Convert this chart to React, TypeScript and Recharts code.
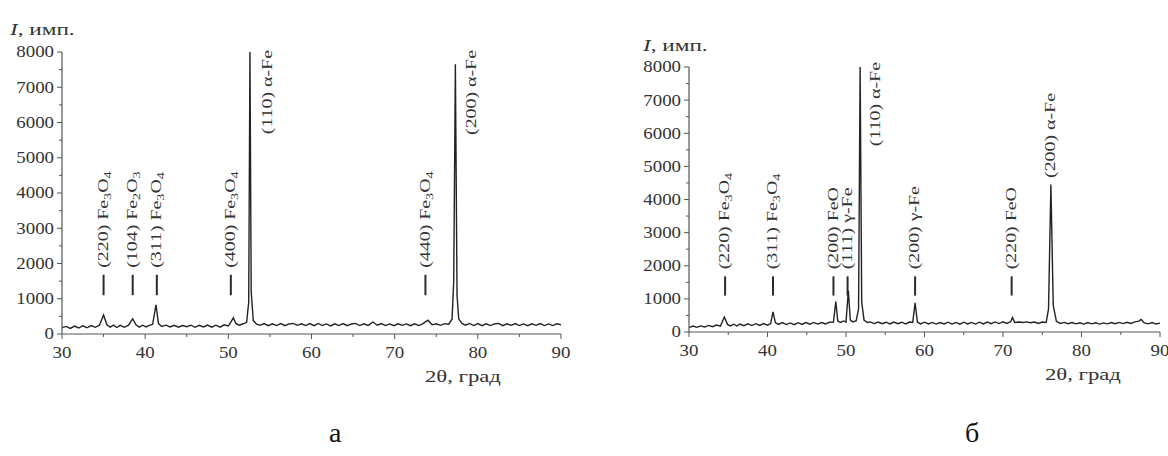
import React from 'react';
import { LineChart, Line, XAxis, YAxis, ReferenceLine } from 'recharts';

// ---------- Data: pattern (a) ----------
const thetaA = [
  30.0, 30.5, 31.0, 31.5, 32.0, 32.5, 33.0, 33.5, 34.0, 34.5,
  35.0, 35.4, 35.8, 36.2, 36.6, 37.0, 37.5, 38.0, 38.5, 38.9,
  39.3, 39.7, 40.1, 40.5, 40.9, 41.3, 41.6, 42.0, 42.5, 43.0,
  43.5, 44.0, 44.5, 45.0, 45.5, 46.0, 46.5, 47.0, 47.5, 48.0,
  48.5, 49.0, 49.5, 50.0, 50.3, 50.6, 50.9, 51.3, 51.8, 52.2,
  52.45, 52.6, 52.75, 53.0, 53.4, 53.8, 54.3, 54.8, 55.3, 55.8,
  56.3, 56.8, 57.3, 57.8, 58.3, 58.8, 59.3, 59.8, 60.3, 60.8,
  61.3, 61.8, 62.3, 62.8, 63.3, 63.8, 64.3, 64.8, 65.3, 65.8,
  66.3, 66.8, 67.4, 67.9, 68.4, 68.9, 69.4, 69.9, 70.4, 70.9,
  71.4, 71.9, 72.4, 72.9, 73.4, 74.0, 74.5, 75.0, 75.5, 76.0,
  76.5, 76.9, 77.1, 77.3, 77.5, 77.7, 78.1, 78.5, 79.0, 79.5,
  80.0, 80.5, 81.0, 81.5, 82.0, 82.5, 83.0, 83.5, 84.0, 84.5,
  85.0, 85.5, 86.0, 86.5, 87.0, 87.5, 88.0, 88.5, 89.0, 89.5,
  90.0,
];
const intensityA = [
  180, 215, 160, 225, 170, 230, 175, 240, 190, 250,
  540, 260, 195, 250, 185, 245, 190, 250, 430, 260,
  195, 250, 200, 245, 275, 830, 295, 215, 250, 200,
  245, 195, 240, 205, 250, 190, 245, 200, 255, 195,
  250, 195, 260, 230, 340, 460, 300, 250, 290, 330,
  900, 8000, 1200, 380, 280, 245, 295, 235, 290, 240,
  295, 235, 285, 300, 245, 290, 240, 295, 235, 300,
  240, 285, 230, 290, 240, 295, 235, 285, 300, 240,
  290, 245, 340, 250, 295, 240, 285, 235, 290, 245,
  285, 235, 290, 240, 295, 390, 260, 290, 245, 295,
  280, 420, 1500, 7650, 1100, 430, 300, 250, 300, 240,
  295, 235, 290, 240, 285, 300, 235, 290, 245, 295,
  240, 285, 235, 290, 245, 295, 240, 285, 240, 290,
  260,
];

// ---------- Data: pattern (б) ----------
const thetaB = [
  30.0, 30.5, 31.0, 31.5, 32.0, 32.5, 33.0, 33.5, 34.0, 34.5,
  34.9, 35.3, 35.7, 36.1, 36.5, 37.0, 37.5, 38.0, 38.5, 39.0,
  39.5, 40.0, 40.4, 40.7, 41.0, 41.4, 41.9, 42.4, 42.9, 43.4,
  43.9, 44.4, 44.9, 45.4, 45.9, 46.4, 46.9, 47.4, 47.9, 48.4,
  48.7, 48.95, 49.3, 49.7, 50.0, 50.3, 50.55, 50.9, 51.3, 51.6,
  51.8, 52.0, 52.3, 52.7, 53.1, 53.6, 54.1, 54.6, 55.1, 55.6,
  56.1, 56.6, 57.1, 57.6, 58.1, 58.5, 58.8, 59.1, 59.5, 60.0,
  60.5, 61.0, 61.5, 62.0, 62.5, 63.0, 63.5, 64.0, 64.5, 65.0,
  65.5, 66.0, 66.5, 67.0, 67.5, 68.0, 68.5, 69.0, 69.5, 70.0,
  70.5, 71.0, 71.2, 71.5, 72.0, 72.5, 73.0, 73.5, 74.0, 74.5,
  75.0, 75.5, 75.8, 76.1, 76.4, 76.8, 77.3, 77.8, 78.3, 78.8,
  79.3, 79.8, 80.3, 80.8, 81.3, 81.8, 82.3, 82.8, 83.3, 83.8,
  84.3, 84.8, 85.3, 85.8, 86.3, 86.8, 87.3, 87.6, 88.0, 88.5,
  89.0, 89.5, 90.0,
];
const intensityB = [
  130, 180, 140, 185, 150, 200, 160, 210, 175, 450,
  230, 185, 235, 180, 240, 190, 245, 195, 250, 200,
  255, 205, 255, 610, 285, 230, 285, 225, 275, 220,
  280, 230, 285, 235, 290, 240, 285, 245, 295, 300,
  920, 330, 290, 335, 300, 1250, 360, 305, 340, 700,
  8000, 900, 360, 285, 305, 255, 300, 250, 295, 245,
  300, 250, 295, 245, 300, 290, 880, 300, 245, 295,
  245, 290, 240, 285, 245, 295, 240, 290, 235, 295,
  245, 290, 240, 295, 245, 300, 250, 305, 255, 310,
  260, 315, 440, 290, 300, 285, 305, 280, 300, 260,
  300, 285, 700, 4450, 800, 320, 260, 290, 250, 285,
  245, 280, 240, 285, 245, 280, 240, 275, 245, 285,
  250, 290, 255, 295, 260, 305, 330, 380, 275, 245,
  285, 240, 270,
];

// ---------- Axes ----------
const xTicks = [30, 35, 40, 45, 50, 55, 60, 65, 70, 75, 80, 85, 90];
const xLabelStep = 10;
const yTicks = [0, 500, 1000, 1500, 2000, 2500, 3000, 3500, 4000, 4500, 5000, 5500, 6000, 6500, 7000, 7500, 8000];
const yLabelStep = 1000;

// ---------- Peak labels ----------
const markerRange = [1100, 1680];

const markersA = [
  { theta: 35.0, hkl: '(220)', phase: 'Fe3O4' },
  { theta: 38.5, hkl: '(104)', phase: 'Fe2O3' },
  { theta: 41.4, hkl: '(311)', phase: 'Fe3O4' },
  { theta: 50.3, hkl: '(400)', phase: 'Fe3O4' },
  { theta: 73.7, hkl: '(440)', phase: 'Fe3O4' },
];
const sideLabelsA = [
  { theta: 52.6, top: 8000, hkl: '(110)', phase: 'α-Fe', dx: 18, dy: -2 },
  { theta: 77.3, top: 8000, hkl: '(200)', phase: 'α-Fe', dx: 16, dy: -2 },
];
const aboveLabelsA: { theta: number; base: number; hkl: string; phase: string }[] = [];

const markersB = [
  { theta: 34.6, hkl: '(220)', phase: 'Fe3O4' },
  { theta: 40.7, hkl: '(311)', phase: 'Fe3O4' },
  { theta: 48.4, hkl: '(200)', phase: 'FeO' },
  { theta: 50.2, hkl: '(111)', phase: 'γ-Fe' },
  { theta: 58.8, hkl: '(200)', phase: 'γ-Fe' },
  { theta: 71.1, hkl: '(220)', phase: 'FeO' },
];
const sideLabelsB = [
  { theta: 51.8, top: 8000, hkl: '(110)', phase: 'α-Fe', dx: 16, dy: -5 },
];
const aboveLabelsB = [
  { theta: 76.1, base: 4650, hkl: '(200)', phase: 'α-Fe' },
];

// ---------- Styling ----------
const FONT = '"Liberation Serif", "Times New Roman", serif';
const TEXT = '#333';
const AXIS = '#555';
const LABEL_STRETCH = 1.42;
const TICK_STRETCH = 1.18;

function chemNodes(hkl: string, phase: string) {
  const parts = phase.split(/(\d+)/);
  const nodes: React.ReactNode[] = [<tspan key="h">{hkl + '\u00a0'}</tspan>];
  let sub = false;
  parts.forEach((p, i) => {
    if (!p) return;
    if (i % 2 === 1) {
      nodes.push(<tspan key={i} fontSize={10} dy={3}>{p}</tspan>);
      sub = true;
    } else {
      nodes.push(<tspan key={i} dy={sub ? -3 : 0}>{p}</tspan>);
      sub = false;
    }
  });
  return nodes;
}

function RotLabel(props: any) {
  const { viewBox, spec, mode } = props;
  if (!viewBox) return null;
  const { x, y, height } = viewBox;
  let ax = x;
  let ay = y;
  let anchor = 'start';
  if (mode === 'marker') {
    ay = y - 7;
  } else if (mode === 'side') {
    ax = x + spec.dx;
    ay = y + (spec.dy || 0);
    anchor = 'end';
  } else {
    ay = y + height;
  }
  return (
    <g transform={`translate(${ax},${ay}) rotate(-90) scale(${LABEL_STRETCH},1)`}>
      <text x={0} y={0} dy="0.3em" textAnchor={anchor} fontFamily={FONT} fontSize={14} fill={TEXT}>
        {chemNodes(spec.hkl, spec.phase)}
      </text>
    </g>
  );
}

function XTick(props: any) {
  const { x, y, payload } = props;
  const v = payload.value;
  const major = v % xLabelStep === 0;
  return (
    <g>
      <line x1={x} x2={x} y1={y} y2={y + (major ? 5 : 3)} stroke={AXIS} strokeWidth={1} />
      {major && (
        <g transform={`translate(${x},${y + 24}) scale(${TICK_STRETCH},1)`}>
          <text x={0} y={0} textAnchor="middle" fontFamily={FONT} fontSize={16} fill={TEXT}>{v}</text>
        </g>
      )}
    </g>
  );
}

function YTick(props: any) {
  const { x, y, payload } = props;
  const v = payload.value;
  const major = v % yLabelStep === 0;
  return (
    <g>
      <line x1={x} x2={x - (major ? 5 : 3)} y1={y} y2={y} stroke={AXIS} strokeWidth={1} />
      {major && (
        <g transform={`translate(${x - 8},${y}) scale(${TICK_STRETCH},1)`}>
          <text x={0} y={0} dy="0.34em" textAnchor="end" fontFamily={FONT} fontSize={16} fill={TEXT}>{v}</text>
        </g>
      )}
    </g>
  );
}

type ChartProps = {
  theta: number[];
  intensity: number[];
  markers: { theta: number; hkl: string; phase: string }[];
  sides: { theta: number; top: number; hkl: string; phase: string; dx: number; dy: number }[];
  aboves: { theta: number; base: number; hkl: string; phase: string }[];
  left: number;
  margin: { top: number; right: number; bottom: number; left: number };
  yAxisWidth: number;
};

function XrdChart({ theta, intensity, markers, sides, aboves, left, margin, yAxisWidth }: ChartProps) {
  const data = theta.map((t, i) => ({ theta: t, I: intensity[i] }));
  return (
    <div style={{ position: 'absolute', left, top: 0 }}>
      <LineChart width={584} height={400} data={data} margin={margin}>
        <XAxis
          type="number"
          dataKey="theta"
          domain={[30, 90]}
          ticks={xTicks}
          interval={0}
          tickSize={0}
          tickMargin={0}
          tickLine={false}
          tick={<XTick />}
          axisLine={{ stroke: AXIS, strokeWidth: 1.2 }}
          height={30}
          allowDataOverflow
        />
        <YAxis
          type="number"
          domain={[0, 8000]}
          ticks={yTicks}
          interval={0}
          tickSize={0}
          tickMargin={0}
          tickLine={false}
          tick={<YTick />}
          axisLine={{ stroke: AXIS, strokeWidth: 1.2 }}
          width={yAxisWidth}
          allowDataOverflow
        />
        <Line
          type="linear"
          dataKey="I"
          stroke="#222"
          strokeWidth={1.4}
          dot={false}
          isAnimationActive={false}
        />
        {markers.map((m, i) => (
          <ReferenceLine
            key={'m' + i}
            segment={[{ x: m.theta, y: markerRange[0] }, { x: m.theta, y: markerRange[1] }]}
            stroke="#2a2a2a"
            strokeWidth={2}
            label={<RotLabel spec={m} mode="marker" />}
          />
        ))}
        {sides.map((s, i) => (
          <ReferenceLine
            key={'s' + i}
            segment={[{ x: s.theta, y: s.top - 100 }, { x: s.theta, y: s.top }]}
            stroke="transparent"
            label={<RotLabel spec={s} mode="side" />}
          />
        ))}
        {aboves.map((a, i) => (
          <ReferenceLine
            key={'a' + i}
            segment={[{ x: a.theta, y: a.base }, { x: a.theta, y: a.base + 100 }]}
            stroke="transparent"
            label={<RotLabel spec={a} mode="above" />}
          />
        ))}
      </LineChart>
    </div>
  );
}

const titleStyle: React.CSSProperties = {
  position: 'absolute',
  fontFamily: FONT,
  fontSize: 16,
  lineHeight: '16px',
  color: TEXT,
  whiteSpace: 'nowrap',
  transformOrigin: 'left top',
};

export default function App() {
  return (
    <div style={{ position: 'absolute', left: 0, top: 0, width: 1168, height: 456, background: '#fff', overflow: 'hidden' }}>
      <XrdChart
        theta={thetaA}
        intensity={intensityA}
        markers={markersA}
        sides={sideLabelsA}
        aboves={aboveLabelsA}
        left={0}
        margin={{ top: 52, right: 23, bottom: 36, left: 0 }}
        yAxisWidth={62}
      />
      <XrdChart
        theta={thetaB}
        intensity={intensityB}
        markers={markersB}
        sides={sideLabelsB}
        aboves={aboveLabelsB}
        left={584}
        margin={{ top: 67, right: 8, bottom: 38, left: 45 }}
        yAxisWidth={60}
      />
      <div style={{ ...titleStyle, left: 10, top: 22, transform: 'scaleX(1.45)' }}>
        <i>I</i>, имп.
      </div>
      <div style={{ ...titleStyle, left: 643, top: 38, transform: 'scaleX(1.45)' }}>
        <i>I</i>, имп.
      </div>
      <div style={{ ...titleStyle, left: 425, top: 369, transform: 'scaleX(1.42)' }}>
        2θ, град
      </div>
      <div style={{ ...titleStyle, left: 1045, top: 367, transform: 'scaleX(1.42)' }}>
        2θ, град
      </div>
      <div style={{ position: 'absolute', left: 329, top: 419, fontFamily: FONT, fontSize: 28, lineHeight: '28px', color: '#111' }}>
        а
      </div>
      <div style={{ position: 'absolute', left: 965, top: 419, fontFamily: FONT, fontSize: 28, lineHeight: '28px', color: '#111' }}>
        б
      </div>
    </div>
  );
}
